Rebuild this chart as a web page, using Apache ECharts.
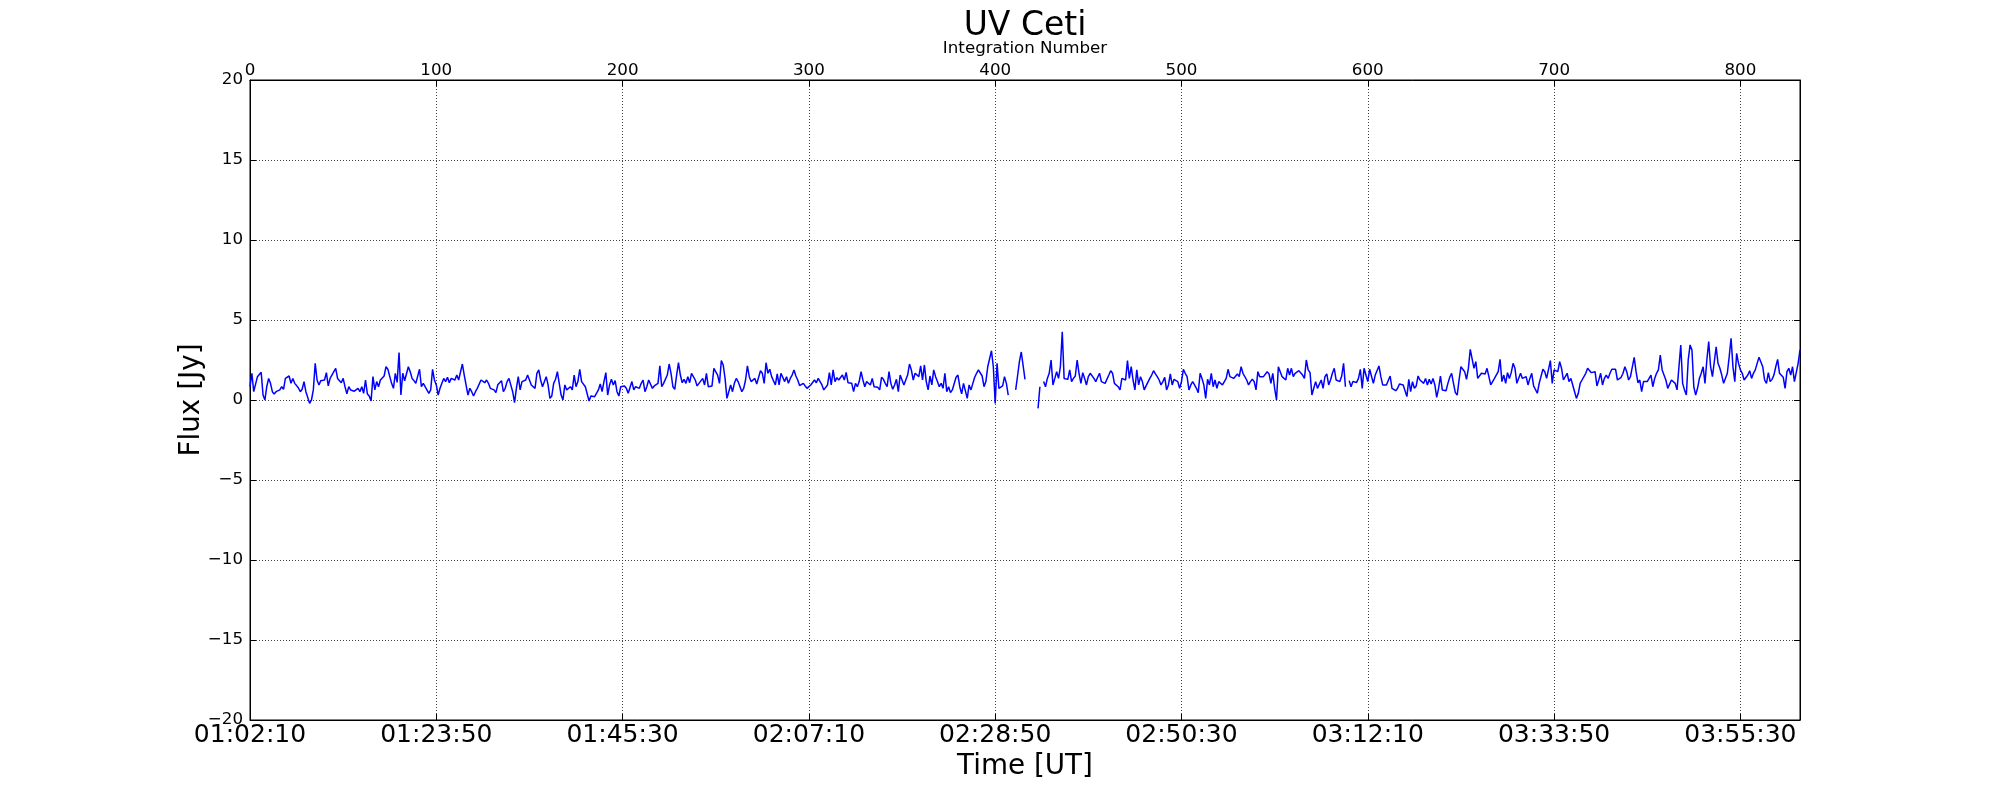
<!DOCTYPE html>
<html>
<head>
<meta charset="utf-8">
<script src="https://cdn.jsdelivr.net/npm/echarts@6/dist/echarts.min.js"></script>
<style>html,body{margin:0;padding:0;background:#fff}#chart{width:2000px;height:800px}</style>
</head>
<body>
<div id="chart"></div>
<script>
// Flux [Jy] per integration (null = no data)
const flux000to083 = [0.83,1.67,0.52,0.42,1.46,1.42,1.73,0.31,0.0,0.83,
1.35,1.04,0.52,0.38,0.52,0.42,0.63,0.83,0.67,1.35,
1.42,1.5,1.04,1.35,1.04,0.9,0.75,0.52,0.67,1.15,
0.52,0.52,-0.21,0.0,0.63,2.29,1.25,0.94,1.21,1.15,
1.25,1.71,0.88,1.35,1.46,1.77,1.98,1.35,1.25,1.08,
1.35,0.83,0.38,0.83,0.63,0.73,0.55,0.63,0.73,0.52,
0.83,0.42,1.25,0.38,0.25,-0.06,1.46,0.63,1.15,0.83,
1.25,1.15,1.5,2.08,1.92,1.98,1.04,0.73,1.67,1.1,
2.96,0.31,1.67,1.2];
const flux084to166 = [1.25,2.08,1.77,1.35,1.21,1.04,1.1,1.92,0.83,1.04,
0.83,0.94,0.42,0.63,1.92,1.25,0.94,0.31,0.73,1.04,
1.35,1.15,1.42,1.08,1.35,1.42,1.25,1.56,1.25,1.15,
2.25,1.56,1.46,0.31,0.73,0.52,0.25,0.52,0.73,0.83,
1.25,1.15,1.08,1.25,1.04,0.73,0.83,0.63,0.46,0.95,
0.94,1.21,0.52,0.73,1.15,1.35,1.25,0.52,-0.17,0.73,
1.46,0.63,1.15,1.21,1.25,1.56,1.46,0.94,0.83,0.73,
1.67,1.88,1.25,0.83,0.94,1.46,0.94,0.1,0.25,1.04,
1.3,1.77,1.04];
const flux167to249 = [0.31,0.0,0.94,0.63,0.52,0.83,0.63,1.56,0.83,1.15,
1.92,1.15,1.04,0.83,0.73,-0.06,0.25,0.31,0.21,0.21,
0.63,1.0,0.52,1.15,1.71,0.31,0.94,1.29,0.94,1.21,
0.52,0.25,0.83,0.9,0.88,0.73,0.42,0.46,1.15,0.63,
0.83,0.94,0.73,1.04,1.25,0.52,0.83,1.25,1.29,0.73,
0.88,0.94,1.04,2.13,0.83,1.04,1.15,1.56,2.25,
1.67,0.83,0.67,1.56,2.33,1.56,1.08,1.29,1.04,1.46,
1.08,1.67,1.67,1.25,0.88,1.04,1.15,1.35,0.94,1.67,
0.83,0.94,0.88,1.98];
const flux250to332 = [1.98,1.56,1.04,2.46,2.19,1.35,0.1,0.52,0.94,0.52,
1.04,1.35,1.15,1.21,0.52,0.73,1.25,2.13,1.46,1.15,1.2,
1.35,1.0,0.94,1.83,1.67,1.04,2.33,1.67,1.92,1.46,
1.56,0.94,1.63,0.94,1.67,1.63,1.15,1.46,1.04,1.35,
1.56,1.88,1.5,1.25,0.9,0.83,1.04,0.88,0.73,0.83,0.94,
1.04,1.25,1.08,1.35,1.29,0.94,0.63,0.73,0.94,1.71,
0.94,1.88,1.15,1.4,1.25,1.35,1.56,1.25,1.73,1.08,1.15,
1.04,0.52,1.04,0.83,1.15,1.77,1.25,0.83,1.15,1.04];
const flux333to407 = [0.94,1.35,0.83,0.83,0.79,0.63,1.42,1.29,1.04,0.83,
1.77,1.04,0.67,0.94,1.29,0.52,1.56,1.46,0.94,1.25,
1.56,2.25,1.88,1.25,1.67,1.56,1.46,2.13,1.25,2.19,
1.15,0.63,1.5,0.94,1.88,1.46,1.15,0.83,1.04,0.73,
1.67,0.52,0.83,0.46,0.63,0.73,1.42,1.56,0.83,0.38,
1.04,1.15,0.1,0.94,0.63,1.04,1.42,1.67,1.88,1.83,
1.5,0.83,1.15,2.08,2.08,3.08,2.08,-0.21,2.29,0.73,
0.83,0.88,1.46,1.04,0.31];
const flux408to425 = [null,null,null,0.63,1.5,2.4,3.0,3.1,1.29,
null,null,null,null,null,null,-0.52,0.83,null];
const flux426to499 = [1.15,0.83,1.35,1.67,2.5,0.94,1.35,1.77,1.35,2.08,
4.27,1.35,1.46,1.29,1.88,1.15,1.35,1.5,2.5,1.67,
1.04,1.71,1.35,0.94,1.46,1.67,1.77,1.35,1.15,1.42,
1.67,1.15,1.25,1.04,1.15,1.56,1.83,1.67,1.04,0.94,
0.83,0.63,1.35,1.46,1.25,2.46,1.35,2.08,1.25,0.63,
1.88,0.94,1.46,1.15,0.63,0.88,0.94,1.35,1.56,1.83,
1.63,1.46,1.25,0.94,1.15,1.42,0.63,0.94,1.63,0.94,
1.29,1.35,1.15,0.73];
const flux500to582 = [1.15,1.92,1.67,1.46,0.63,0.94,1.15,0.94,0.73,0.46,
1.67,1.35,0.94,0.1,1.29,0.94,1.67,0.83,1.25,0.73,
1.15,1.04,0.94,1.15,1.35,1.92,1.46,1.42,1.35,1.25,
1.63,1.46,2.08,1.67,1.56,1.25,0.94,1.15,1.3,1.15,0.63,
1.77,1.46,1.42,1.46,1.56,1.77,1.63,1.04,1.67,0.73,
0.0,2.08,1.77,1.46,1.56,1.25,1.98,1.56,1.98,1.46,
1.67,1.71,1.83,1.77,1.56,1.35,2.5,1.88,1.71,0.31,
0.73,1.15,0.73,0.63,1.25,0.73,1.46,1.63,0.94,1.25,
1.67,1.98];
const flux583to665 = [1.25,1.35,1.15,1.5,2.29,0.83,null,1.21,0.83,1.15,
1.04,1.1,1.35,1.92,0.73,1.98,1.56,1.15,1.92,1.83,1.04,
1.56,1.46,2.13,1.46,0.94,0.88,0.94,0.83,1.5,0.73,
0.83,0.58,0.73,1.0,0.9,0.94,0.94,0.21,1.29,0.52,1.15,
0.73,0.88,1.5,1.25,1.35,1.04,1.35,0.94,1.29,1.0,
1.35,0.94,0.17,0.73,1.5,0.63,0.63,0.58,1.04,1.42,
1.67,1.04,0.46,0.31,1.25,2.08,2.04,1.77,1.29,1.98,
3.17,3.17,1.98,2.4,1.35,1.46,1.67,1.77,1.63,1.98,
2.08];
const flux666to748 = [0.94,1.04,1.35,1.46,1.77,2.54,1.15,1.56,1.04,1.71,
1.35,1.71,2.29,1.98,1.04,1.15,1.67,1.35,1.42,1.46,
0.94,1.35,1.67,0.88,0.94,0.42,1.04,1.15,1.92,1.77,
1.35,1.25,2.46,1.04,1.88,1.92,1.77,2.4,1.98,1.25,
1.15,1.67,1.15,1.35,0.94,0.52,0.1,0.42,1.04,1.25,
1.35,1.67,1.98,1.88,1.71,1.67,1.77,0.88,1.25,1.67,
0.94,1.35,1.56,1.35,1.67,1.92,1.98,1.92,1.25,1.35,
1.42,1.67,2.08,1.77,1.25,1.46,1.5,2.67,1.77,1.08,
1.25,0.52,1.15];
const flux749to832 = [1.25,1.15,1.25,1.56,0.83,1.35,1.67,1.88,2.81,1.88,
1.77,1.25,0.73,0.63,1.25,1.35,1.04,0.63,0.52,
3.44,1.04,0.63,0.31,2.5,3.44,3.13,0.83,0.31,0.73,
1.35,1.67,2.08,1.04,2.5,3.65,2.08,1.46,1.35,3.33,
2.29,1.98,1.56,1.04,0.94,1.67,2.71,3.85,2.08,1.15,
2.92,2.29,1.88,1.67,1.25,1.35,1.56,1.83,1.35,1.67,
1.88,2.29,2.67,2.6,2.08,1.25,1.04,1.71,1.15,1.29,
1.56,2.08,2.54,1.67,1.56,1.42,0.73,1.77,1.98,
1.56,2.08,1.15,1.08,2.29,3.13];

// Axes
const integrationMax = 832;
const integrationStep = 100;
const secondsPerIntegration = 13;
const startTimeSeconds = 1 * 3600 + 2 * 60 + 10; // 01:02:10
const timeStepSeconds = 1300;
const fluxMin = -20, fluxMax = 20, fluxStep = 5;

const flux = [].concat(flux000to083, flux084to166, flux167to249, flux250to332,
  flux333to407, flux408to425, flux426to499, flux500to582, flux583to665,
  flux666to748, flux749to832);

const FONT = 'DejaVu Sans';
function pad(n) { return (n < 10 ? '0' : '') + n; }
function fmtTime(v) {
  const t = Math.round(startTimeSeconds + v);
  const h = Math.floor(t / 3600), m = Math.floor((t % 3600) / 60), s = t % 60;
  return pad(h) + ':' + pad(m) + ':' + pad(s);
}
function fmtFlux(v) { return v < 0 ? '\u2212' + Math.abs(v) : String(v); }

const chart = echarts.init(document.getElementById('chart'), null, { renderer: 'canvas' });
const gridLine = { show: true, lineStyle: { color: '#444', type: [1, 2], width: 1 } };
const tick = { show: true, inside: true, length: 6, lineStyle: { color: '#000', width: 1 } };
const axisLine = { show: true, onZero: false, lineStyle: { color: '#000', width: 1 } };

chart.setOption({
  animation: false,
  backgroundColor: '#fff',
  title: {
    text: 'UV Ceti', left: 1025, top: 10, padding: 0, textAlign: 'center',
    textStyle: { fontFamily: FONT, fontSize: 33, fontWeight: 'normal', color: '#000' }
  },
  grid: { left: 250, right: 200, top: 80, bottom: 80, show: true, borderColor: '#000', borderWidth: 1, containLabel: false },
  xAxis: [
    {
      type: 'value', position: 'top', min: 0, max: integrationMax, interval: integrationStep,
      name: 'Integration Number', nameLocation: 'middle', nameGap: 21,
      nameTextStyle: { fontFamily: FONT, fontSize: 16.7, color: '#000' },
      axisLine: axisLine, axisTick: tick, splitLine: gridLine,
      axisLabel: { fontFamily: FONT, fontSize: 16.7, color: '#000', margin: 1, showMaxLabel: false }
    },
    {
      type: 'value', position: 'bottom', min: 0, max: integrationMax * secondsPerIntegration, interval: timeStepSeconds,
      name: 'Time [UT]', nameLocation: 'middle', nameGap: 26,
      nameTextStyle: { fontFamily: FONT, fontSize: 27.8, color: '#000' },
      axisLine: axisLine, axisTick: tick, splitLine: { show: false },
      axisLabel: { fontFamily: FONT, fontSize: 25, color: '#000', margin: 3, showMaxLabel: false, formatter: fmtTime }
    }
  ],
  yAxis: [
    {
      type: 'value', position: 'left', min: fluxMin, max: fluxMax, interval: fluxStep,
      name: 'Flux [Jy]', nameLocation: 'middle', nameGap: 44, nameRotate: 90, nameMoveOverlap: false,
      nameTextStyle: { fontFamily: FONT, fontSize: 27.8, color: '#000' },
      axisLine: axisLine, axisTick: tick, splitLine: gridLine,
      axisLabel: { fontFamily: FONT, fontSize: 16.7, color: '#000', margin: 7, formatter: fmtFlux }
    },
    {
      type: 'value', position: 'right', min: fluxMin, max: fluxMax, interval: fluxStep,
      axisLine: axisLine, axisTick: tick, splitLine: { show: false }, axisLabel: { show: false }
    }
  ],
  series: [{
    type: 'line', xAxisIndex: 0, yAxisIndex: 0,
    data: flux.map((v, i) => [i, v === null ? '-' : v]),
    showSymbol: false, symbol: 'none', connectNulls: false,
    lineStyle: { color: '#0000ff', width: 1.5 }
  }]
});
</script>
</body>
</html>
